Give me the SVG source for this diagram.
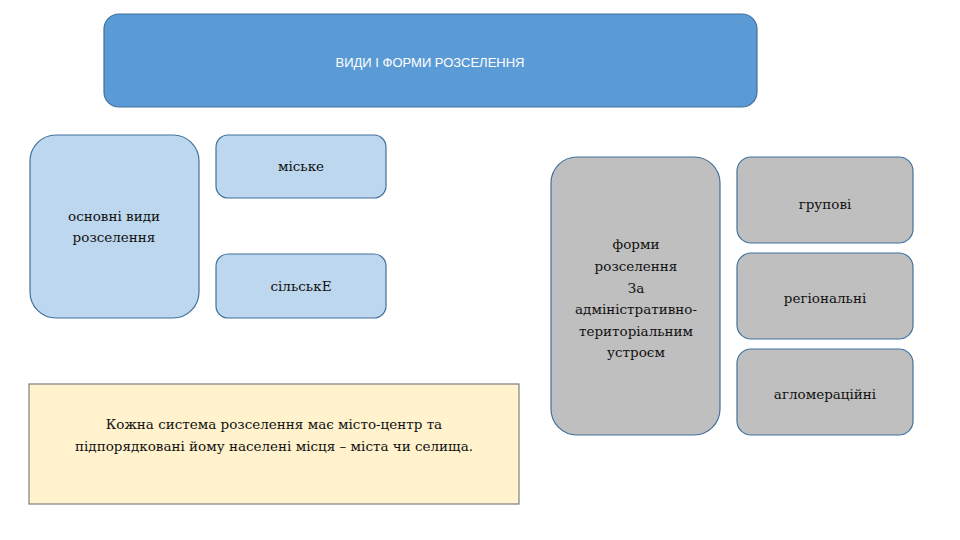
<svg xmlns="http://www.w3.org/2000/svg" width="960" height="540" viewBox="0 0 960 540">
<style>
.blue{fill:#bdd7ee;stroke:#41719c;stroke-width:1.2}
.gray{fill:#bfbfbf;stroke:#41719c;stroke-width:1.2}
.t{font-family:"DejaVu Serif",serif;font-size:13.5px;fill:#111;text-anchor:middle}
</style>
<rect width="960" height="540" fill="#fff"/>
<g id="title">
<rect x="104" y="14" width="653" height="93" rx="15" fill="#5b9bd5" stroke="#41719c" stroke-width="1.2"/>
<text x="430" y="67" font-family="Liberation Sans" font-size="13" fill="#fff" text-anchor="middle">ВИДИ І ФОРМИ РОЗСЕЛЕННЯ</text>
</g>
<g id="main-types">
<rect class="blue" x="30" y="135" width="169" height="183" rx="26"/>
<text class="t" x="114" y="221">основні види</text>
<text class="t" x="114" y="242">розселення</text>
</g>
<g id="urban">
<rect class="blue" x="216" y="135" width="170" height="63" rx="12"/>
<text class="t" x="301" y="171">міське</text>
</g>
<g id="rural">
<rect class="blue" x="216" y="254" width="170" height="64" rx="12"/>
<text class="t" x="301" y="291">сільськЕ</text>
</g>
<g id="forms">
<rect class="gray" x="551" y="157" width="169" height="278" rx="26"/>
<text class="t" x="636" y="249">форми</text>
<text class="t" x="636" y="271">розселення</text>
<text class="t" x="636" y="293">За</text>
<text class="t" x="636" y="314">адміністративно-</text>
<text class="t" x="636" y="336">територіальним</text>
<text class="t" x="636" y="357">устроєм</text>
</g>
<g id="group">
<rect class="gray" x="737" y="157" width="176" height="86" rx="14"/>
<text class="t" x="825" y="209">групові</text>
</g>
<g id="regional">
<rect class="gray" x="737" y="253" width="176" height="86" rx="14"/>
<text class="t" x="825" y="303">регіональні</text>
</g>
<g id="agglomeration">
<rect class="gray" x="737" y="349" width="176" height="86" rx="14"/>
<text class="t" x="825" y="399">агломераційні</text>
</g>
<g id="note">
<rect x="29" y="384" width="490" height="120" fill="#fff2cc" stroke="#7f7f7f" stroke-width="1.2"/>
<text class="t" x="274" y="429">Кожна система розселення має місто-центр та</text>
<text class="t" x="274" y="451">підпорядковані йому населені місця – міста чи селища.</text>
</g>
<g id="connectors"/>
</svg>
